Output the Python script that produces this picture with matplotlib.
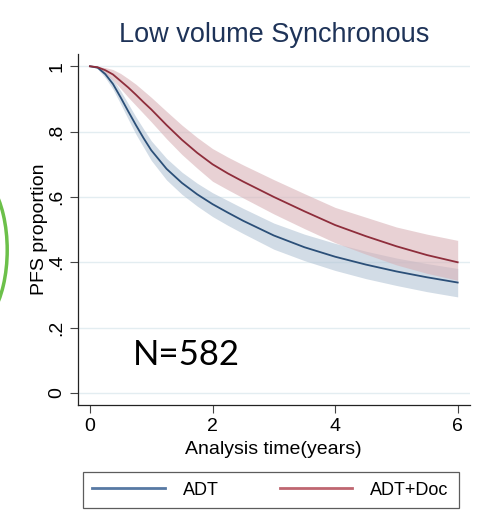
import matplotlib.pyplot as plt
from matplotlib.patches import Arc

plt.rcParams['font.family'] = ['Liberation Sans', 'DejaVu Sans']

# analysis time (years)
t = [0, 0.125, 0.25, 0.375, 0.5, 0.625, 0.75, 0.875, 1.0, 1.25, 1.5, 1.75,
     2.0, 2.25, 2.5, 3.0, 3.5, 4.0, 4.5, 5.0, 5.5, 6.0]

# ADT: estimate and band
adt = [1.0, 0.996, 0.976, 0.946, 0.905, 0.862, 0.82, 0.78, 0.743, 0.686, 0.643, 0.608,
       0.578, 0.552, 0.527, 0.482, 0.446, 0.417, 0.393, 0.372, 0.354, 0.338]
adt_lo = [1.0, 0.992, 0.965, 0.93, 0.885, 0.838, 0.792, 0.752, 0.712, 0.652, 0.608, 0.572,
          0.54, 0.513, 0.488, 0.44, 0.405, 0.375, 0.35, 0.329, 0.31, 0.294]
adt_hi = [1.0, 0.998, 0.985, 0.96, 0.925, 0.885, 0.845, 0.808, 0.772, 0.718, 0.676, 0.642,
          0.613, 0.589, 0.565, 0.52, 0.486, 0.458, 0.434, 0.413, 0.396, 0.381]

# ADT+Doc: estimate and band
doc = [1.0, 0.997, 0.988, 0.975, 0.955, 0.935, 0.913, 0.89, 0.868, 0.82, 0.775, 0.735,
       0.70, 0.672, 0.647, 0.60, 0.556, 0.514, 0.48, 0.449, 0.422, 0.40]
doc_lo = [1.0, 0.994, 0.978, 0.958, 0.932, 0.905, 0.88, 0.855, 0.83, 0.778, 0.73, 0.688,
          0.648, 0.622, 0.597, 0.548, 0.503, 0.46, 0.425, 0.392, 0.366, 0.345]
doc_hi = [1.0, 0.999, 0.996, 0.99, 0.978, 0.962, 0.945, 0.925, 0.905, 0.862, 0.82, 0.782,
          0.748, 0.722, 0.698, 0.653, 0.61, 0.568, 0.538, 0.508, 0.486, 0.467]

yticks = [0, 0.2, 0.4, 0.6, 0.8, 1.0]
ylabels = ['0', '.2', '.4', '.6', '.8', '1']
xticks = [0, 2, 4, 6]

blue = '#2b4f78'
red = '#8e2d3b'

fig = plt.figure(figsize=(4.81, 5.21), dpi=100)
ax = fig.add_axes([0.1615, 0.2226, 0.8155, 0.6734])

ax.fill_between(t, adt_lo, adt_hi, color='#b4c5d6', alpha=0.6, lw=0)
ax.fill_between(t, doc_lo, doc_hi, color='#d9b3b8', alpha=0.6, lw=0)
ax.plot(t, adt, color=blue, lw=1.3)
ax.plot(t, doc, color=red, lw=1.3)

ax.set_xlim(-0.2, 6.2)
ax.set_ylim(-0.037, 1.037)
ax.set_yticks(yticks)
ax.set_yticklabels(ylabels, rotation=90, va='center')
ax.set_xticks(xticks)
ax.tick_params(labelsize=14, length=6, width=0.8, color='#444444', pad=3)
ax.grid(axis='y', color='#e3edf1', lw=1)
ax.set_axisbelow(True)
for s in ['top', 'right']:
    ax.spines[s].set_visible(False)
for s in ['left', 'bottom']:
    ax.spines[s].set_color('#222222')
    ax.spines[s].set_linewidth(0.9)

ax.set_ylabel('PFS proportion', fontsize=14, labelpad=0)
ax.set_xlabel('Analysis time(years)', fontsize=14, labelpad=5)
ax.set_title('Low volume Synchronous', fontsize=19.5, color='#1e3358', pad=9)

ax.text(1.57, 0.115, 'N=582', fontsize=25, family=['Lato', 'DejaVu Sans'],
        ha='center', va='center')

# legend handles use the lighter Stata legend tones
h1, = ax.plot([], [], color='#5779a3', lw=2, label='ADT')
h2, = ax.plot([], [], color='#bf6670', lw=2, label='ADT+Doc')
leg = fig.legend(handles=[h1, h2], loc='center', bbox_to_anchor=(0.5625, 0.0595),
                 ncol=2, frameon=True, fancybox=False, fontsize=13,
                 handlelength=4, handletextpad=1.0, columnspacing=3.4,
                 borderpad=0.55, borderaxespad=0, edgecolor='#333333')
leg.get_frame().set_linewidth(0.9)

# green arc from the slide edge
fig.patches.append(Arc((-0.06, 0.52), 0.15, 0.3, theta1=-70, theta2=70,
                       transform=fig.transFigure, color='#6cc04a', lw=2.5))

fig.savefig('out.png', dpi=100)
